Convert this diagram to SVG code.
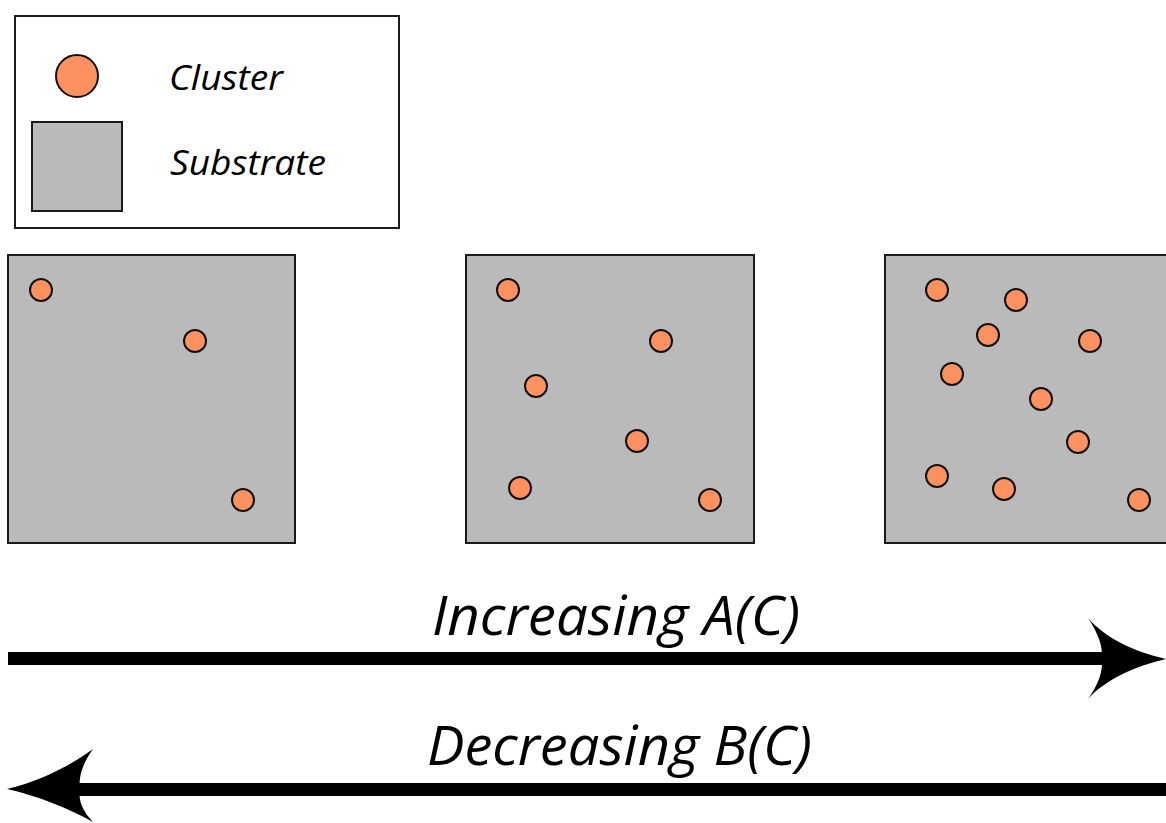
<svg xmlns="http://www.w3.org/2000/svg" width="1166" height="823" viewBox="0 0 1166 823">
<style>
.sub{fill:#bababa;stroke:#1a1a1a;stroke-width:2}
.cl{fill:#fd9160;stroke:#111;stroke-width:2}
.lbl{font-family:"Open Sans","Noto Sans","Liberation Sans",sans-serif;font-style:italic;fill:#000}
.ar{fill:#000}
</style>
<rect width="1166" height="823" fill="#fff"/>
<g id="legend">
<rect x="15" y="16" width="384" height="212" fill="#fff" stroke="#1a1a1a" stroke-width="2"/>
<circle class="cl" cx="77" cy="76" r="21"/>
<rect class="sub" x="32" y="122" width="90" height="89"/>
<text class="lbl" x="169" y="90" font-size="35" textLength="114" lengthAdjust="spacingAndGlyphs">Cluster</text>
<text class="lbl" x="170" y="175" font-size="35" textLength="156" lengthAdjust="spacingAndGlyphs">Substrate</text>
</g>
<g id="panel1">
<rect class="sub" x="8" y="255" width="287" height="288"/>
<circle class="cl" cx="41" cy="290" r="11"/>
<circle class="cl" cx="195" cy="341" r="11"/>
<circle class="cl" cx="243" cy="500" r="11"/>
</g>
<g id="panel2">
<rect class="sub" x="466" y="255" width="288" height="288"/>
<circle class="cl" cx="508" cy="290" r="11"/>
<circle class="cl" cx="661" cy="341" r="11"/>
<circle class="cl" cx="536" cy="386" r="11"/>
<circle class="cl" cx="637" cy="441" r="11"/>
<circle class="cl" cx="520" cy="488" r="11"/>
<circle class="cl" cx="710" cy="500" r="11"/>
</g>
<g id="panel3">
<rect class="sub" x="885" y="255" width="290" height="288"/>
<circle class="cl" cx="937" cy="290" r="11"/>
<circle class="cl" cx="1016" cy="300" r="11"/>
<circle class="cl" cx="988" cy="335" r="11"/>
<circle class="cl" cx="1090" cy="341" r="11"/>
<circle class="cl" cx="952" cy="374" r="11"/>
<circle class="cl" cx="1041" cy="399" r="11"/>
<circle class="cl" cx="1078" cy="442" r="11"/>
<circle class="cl" cx="937" cy="476" r="11"/>
<circle class="cl" cx="1004" cy="489" r="11"/>
<circle class="cl" cx="1139" cy="500" r="11"/>
</g>
<g id="connectors">
<rect class="ar" x="8" y="652" width="1100" height="13"/>
<path class="ar" d="M1166,659 C1135,666 1105,680 1088,699 C1098,685 1103,672 1102,659 C1103,646 1098,633 1088,618 C1105,638 1135,652 1166,659 Z"/>
<rect class="ar" x="72" y="783" width="1094" height="13"/>
<path class="ar" d="M7,789 C38,782 68,767 93,749 C83,763 78,777 80,789 C78,801 83,811 93,822 C68,808 38,796 7,789 Z"/>
<text class="lbl" x="432" y="635" font-size="55" textLength="368" lengthAdjust="spacingAndGlyphs">Increasing A(C)</text>
<text class="lbl" x="427" y="765" font-size="55" textLength="385" lengthAdjust="spacingAndGlyphs">Decreasing B(C)</text>
</g>
</svg>
